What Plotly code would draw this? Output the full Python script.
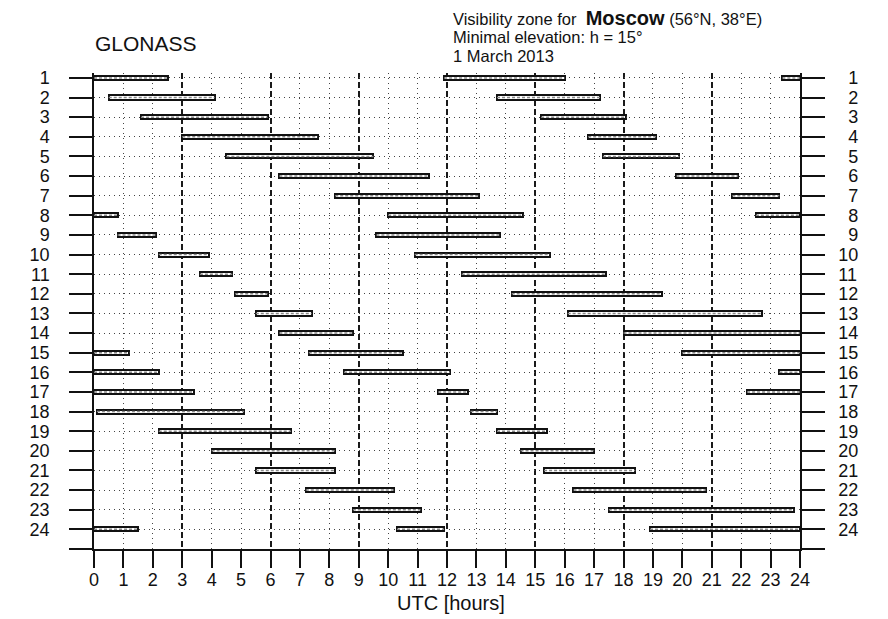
import plotly.graph_objects as go

# ---- data ----
satellites = list(range(1, 25))
row_labels = [str(s) for s in satellites]
hour_ticks = list(range(0, 25))

pass_sat = [1, 1, 1,
            2, 2,
            3, 3,
            4, 4,
            5, 5,
            6, 6,
            7, 7,
            8, 8, 8,
            9, 9,
            10, 10,
            11, 11,
            12, 12,
            13, 13,
            14, 14,
            15, 15, 15,
            16, 16, 16,
            17, 17, 17,
            18, 18,
            19, 19,
            20, 20,
            21, 21,
            22, 22,
            23, 23,
            24, 24, 24]
pass_start = [0.0, 11.9, 23.4,
              0.5, 13.7,
              1.6, 15.2,
              3.0, 16.8,
              4.5, 17.3,
              6.3, 19.8,
              8.2, 21.7,
              0.0, 10.0, 22.5,
              0.8, 9.6,
              2.2, 10.9,
              3.6, 12.5,
              4.8, 14.2,
              5.5, 16.1,
              6.3, 18.0,
              0.0, 7.3, 20.0,
              0.0, 8.5, 23.3,
              0.0, 11.7, 22.2,
              0.1, 12.8,
              2.2, 13.7,
              4.0, 14.5,
              5.5, 15.3,
              7.2, 16.3,
              8.8, 17.5,
              0.0, 10.3, 18.9]
pass_end = [2.5, 16.0, 24.0,
            4.1, 17.2,
            5.9, 18.1,
            7.6, 19.1,
            9.5, 19.9,
            11.4, 21.9,
            13.1, 23.3,
            0.8, 14.6, 24.0,
            2.1, 13.8,
            3.9, 15.5,
            4.7, 17.4,
            5.9, 19.3,
            7.4, 22.7,
            8.8, 24.0,
            1.2, 10.5, 24.0,
            2.2, 12.1, 24.0,
            3.4, 12.7, 24.0,
            5.1, 13.7,
            6.7, 15.4,
            8.2, 17.0,
            8.2, 18.4,
            10.2, 20.8,
            11.1, 23.8,
            1.5, 11.9, 24.0]

FONT = "Liberation Sans, Arial, Helvetica, sans-serif"
INK = "#111111"

durations = [e - s for s, e in zip(pass_start, pass_end)]

fig = go.Figure()

# bars (white fill, black outline)
fig.add_trace(go.Bar(
    y=pass_sat, x=durations, base=pass_start, orientation="h",
    width=0.21, marker=dict(color="white", line=dict(color=INK, width=2)),
    cliponaxis=False, xaxis="x", yaxis="y", showlegend=False, hoverinfo="skip"))

# dashed grey core inside each bar
seg_x, seg_y = [], []
for s, a, b in zip(pass_sat, pass_start, pass_end):
    seg_x += [a, b, None]
    seg_y += [s, s, None]
fig.add_trace(go.Scatter(
    x=seg_x, y=seg_y, mode="lines",
    line=dict(color="#8a8a8a", width=1.5, dash="3px,2px"),
    xaxis="x2", yaxis="y2", showlegend=False, hoverinfo="skip"))

yr = [25, 0.75]
left_text = row_labels + [""]
right_text = [("\u2007" + t if len(t) == 1 else t) for t in row_labels] + [""]
yvals = satellites + [25]

# the page body adds an 8px offset; figure is sized to fit the 888x619 window
fig.update_layout(
    width=880, height=611,
    margin=dict(l=86, r=88, t=65, b=70),
    paper_bgcolor="white", plot_bgcolor="white",
    font=dict(family=FONT, color=INK),
    bargap=0,
    xaxis=dict(
        range=[0, 24], tick0=0, dtick=3, showticklabels=False, ticks="",
        showgrid=True, gridcolor="#1a1a1a", gridwidth=1.6, griddash="6px,3px",
        minor=dict(dtick=1, tick0=0, showgrid=True, gridcolor="#444444",
                   gridwidth=1, griddash="1px,4px"),
        showline=True, linecolor=INK, linewidth=1.5, zeroline=False,
        fixedrange=True),
    xaxis2=dict(
        range=[0, 24], overlaying="x", anchor="y", side="bottom",
        tickmode="array", tickvals=hour_ticks, ticktext=[str(h) for h in hour_ticks],
        ticks="outside", ticklen=18, tickwidth=1.5, tickcolor=INK,
        tickfont=dict(size=18, family=FONT, color=INK), ticklabelstandoff=-4,
        showgrid=False, showline=False, zeroline=False),
    yaxis=dict(
        range=yr, tickmode="array", tickvals=yvals, ticktext=left_text,
        ticks="outside", ticklen=23, tickwidth=1.5, tickcolor=INK,
        tickfont=dict(size=18, family=FONT, color=INK), ticklabelstandoff=16,
        showgrid=True, gridcolor="#444444", gridwidth=1, griddash="1px,4px",
        showline=True, linecolor=INK, linewidth=1.5, zeroline=False),
    yaxis2=dict(
        range=yr, overlaying="y", side="right", anchor="x",
        tickmode="array", tickvals=yvals, ticktext=right_text,
        ticks="outside", ticklen=23, tickwidth=1.5, tickcolor=INK,
        tickfont=dict(size=18, family=FONT, color=INK), ticklabelstandoff=10,
        showgrid=False, showline=True, linecolor=INK, linewidth=1.5,
        zeroline=False),
)

# helpers: window pixel -> paper coordinates (plot area spans x 94..800, y 73..549)
def py(px):
    return (549 - px) / 476.0

def pxx(px):
    return (px - 94) / 706.0

fig.add_annotation(text="GLONASS", x=pxx(93), y=py(43), xref="paper", yref="paper",
                   xanchor="left", yanchor="middle", showarrow=False,
                   font=dict(size=21, family=FONT, color=INK))
fig.add_annotation(
    text="Visibility zone for\u00a0\u00a0<b><span style='font-size:20px'>Moscow</span></b> (56°N, 38°E)",
    x=pxx(451), y=py(18), xref="paper", yref="paper", xanchor="left", yanchor="middle",
    showarrow=False, font=dict(size=16.5, family=FONT, color=INK))
fig.add_annotation(text="Minimal elevation: h = 15°", x=pxx(451), y=py(37),
                   xref="paper", yref="paper", xanchor="left", yanchor="middle",
                   showarrow=False, font=dict(size=16.5, family=FONT, color=INK))
fig.add_annotation(text="1 March 2013", x=pxx(451), y=py(56),
                   xref="paper", yref="paper", xanchor="left", yanchor="middle",
                   showarrow=False, font=dict(size=16.5, family=FONT, color=INK))
fig.add_annotation(text="UTC [hours]", x=pxx(451), y=py(603), xref="paper", yref="paper",
                   xanchor="center", yanchor="middle", showarrow=False,
                   font=dict(size=20, family=FONT, color=INK))

fig.write_html("out.html")
